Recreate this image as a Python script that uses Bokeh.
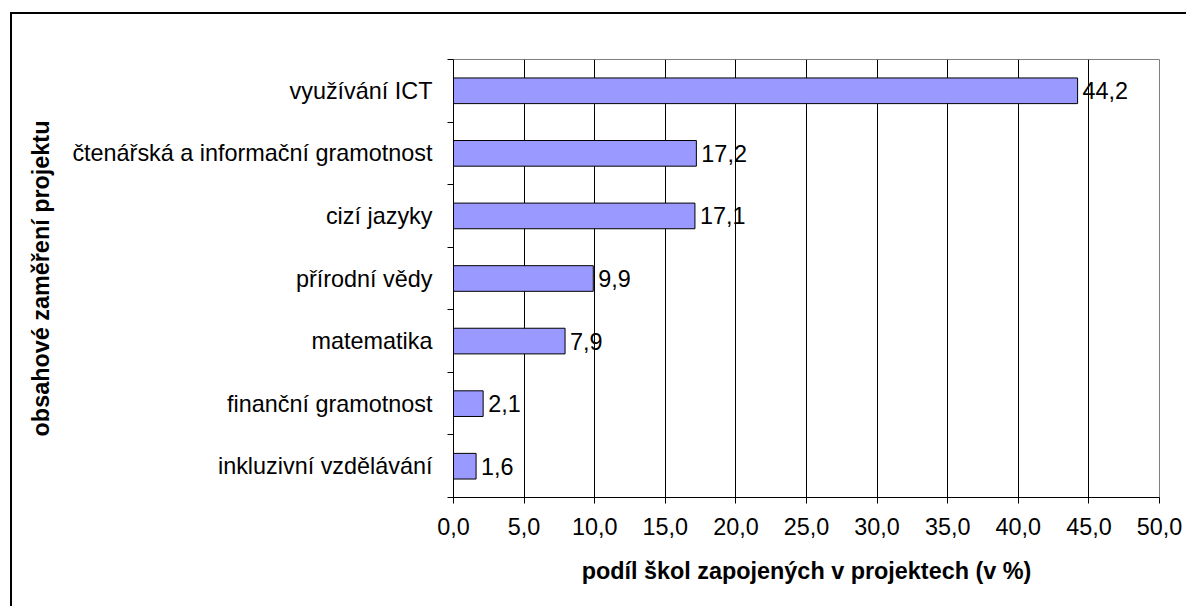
from bokeh.plotting import figure
from bokeh.models import Range1d, FixedTicker, ColumnDataSource, InlineStyleSheet
from bokeh.core.properties import value
from bokeh.embed import file_html
from bokeh.resources import INLINE

categories = ["využívání ICT", "čtenářská a informační gramotnost", "cizí jazyky",
              "přírodní vědy", "matematika", "finanční gramotnost", "inkluzivní vzdělávání"]
values = [44.2, 17.2, 17.1, 9.9, 7.9, 2.1, 1.6]
x_ticks = [0, 5, 10, 15, 20, 25, 30, 35, 40, 45, 50]
x_title = "podíl škol zapojených v projektech (v %)"
y_title = "obsahové zaměření projektu"

FONT = "Liberation Sans"
FS = "23.4px"

n = len(categories)
ys = [n - i - 0.5 for i in range(n)]
labels = [f"{v:.1f}".replace(".", ",") for v in values]

src = ColumnDataSource(dict(y=ys, v=values, lab=labels))

p = figure(width=1186, height=606, output_backend="svg", toolbar_location=None,
           x_range=Range1d(0, 50), y_range=Range1d(0, n),
           min_border_left=453, min_border_top=59, min_border_right=27, min_border_bottom=109)
p.background_fill_color = "white"
p.border_fill_color = "white"
p.outline_line_color = "#808080"
p.outline_line_width = 1

p.hbar(y="y", right="v", left=0, height=0.41, source=src,
       fill_color="#9999FF", line_color="black", line_width=1)
p.text(x="v", y="y", text="lab", source=src, x_offset=5,
       text_align="left", text_baseline="middle",
       text_font=value(FONT), text_font_size=FS, text_color="black")

# x axis
xa = p.xaxis[0]
xa.ticker = FixedTicker(ticks=x_ticks)
xa.major_label_overrides = {t: f"{t:.1f}".replace(".", ",") for t in x_ticks}
xa.major_tick_out = 6
xa.major_tick_in = 0
xa.minor_tick_out = 0
xa.axis_line_color = "black"
xa.major_tick_line_color = "black"
xa.major_label_text_font = FONT
xa.major_label_text_font_size = FS
xa.major_label_text_color = "black"
xa.major_label_standoff = 14
xa.axis_label = x_title
xa.axis_label_text_font = FONT
xa.axis_label_text_font_size = FS
xa.axis_label_text_font_style = "bold"
xa.axis_label_text_color = "black"
xa.axis_label_standoff = 20

# y axis: labels at category centres, ticks at category boundaries
ya = p.yaxis[0]
ya.ticker = FixedTicker(ticks=ys, minor_ticks=list(range(n + 1)))
ya.major_label_overrides = {y: c for y, c in zip(ys, categories)}
ya.major_tick_out = 0
ya.major_tick_in = 0
ya.minor_tick_out = 6
ya.minor_tick_in = 0
ya.minor_tick_line_color = "black"
ya.axis_line_color = "black"
ya.major_label_text_font = FONT
ya.major_label_text_font_size = FS
ya.major_label_text_color = "black"
ya.major_label_standoff = 15
ya.axis_label = y_title
ya.axis_label_text_font = FONT
ya.axis_label_text_font_size = FS
ya.axis_label_text_font_style = "bold"
ya.axis_label_text_color = "black"
ya.axis_label_standoff = 15

p.ygrid.visible = False
p.xgrid.ticker = FixedTicker(ticks=x_ticks[1:-1])
p.xgrid.grid_line_color = "black"
p.xgrid.grid_line_width = 1

# outer chart-area frame (left and top edges visible in the window)
p.stylesheets = [InlineStyleSheet(css="""
:host { position: relative; }
:host::after {
  content: ""; position: absolute; left: 10px; top: 12px; right: 0; bottom: 0;
  border-left: 2px solid black; border-top: 2px solid black;
  pointer-events: none; box-sizing: border-box;
}
""")]

open("out.html", "w").write(file_html(p, INLINE))
